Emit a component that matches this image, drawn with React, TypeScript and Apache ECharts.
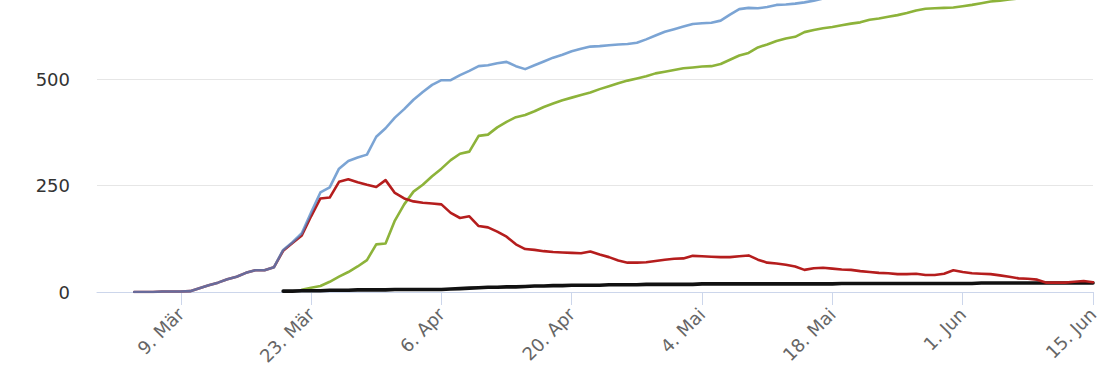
import React, { useEffect, useRef } from "react";
import * as echarts from "echarts";

// x axis: daily categories from 29 Feb 2020 to 15 Jun 2020
const firstDay = [2020, 1, 29];
const dayCount = 108;
const monthNames = ["Jan", "Feb", "Mär", "Apr", "Mai", "Jun"];
const tickLabels = ["9. Mär", "23. Mär", "6. Apr", "20. Apr", "4. Mai", "18. Mai", "1. Jun", "15. Jun"];
const yTicks = [0, 250, 500, 750];

// day index (from 29 Feb) at which each series begins
const totalStart = 4;
const activeStart = 4;
const recoveredStart = 22;
const deathsStart = 20;

const totalCases = [
  0, 0, 0, 1, 1, 1, 2, 9, 16, 22, 30, 36, 45, 51, 51, 58, 99,
  117, 138, 187, 234, 246, 290, 308, 316, 323, 365,
  385, 410, 430, 452, 470, 487, 498, 498, 510, 520,
  531, 533, 538, 541, 531, 524, 533, 542, 551, 558,
  566, 572, 577, 578, 580, 582, 583, 586, 594, 603,
  612, 618, 624, 630, 632, 633, 638, 652, 665, 668,
  667, 670, 675, 676, 678, 681, 685, 690,
  694, 697, 700, 703, 706, 709, 712, 714, 716, 718,
  720, 722, 724, 726, 728, 730, 732, 734, 736, 737,
  738, 739, 740, 741, 742, 743, 744, 745, 746,
];

const activeCases = [
  0, 0, 0, 1, 1, 1, 2, 9, 16, 22, 30, 36, 45, 51, 51, 58, 97, 115,
  133, 178, 220, 222, 259,
  265, 258, 252, 247, 263,
  233, 220, 213, 210, 208,
  206, 186, 174, 178, 155,
  152, 142, 130, 112, 101,
  99, 96, 94, 93, 92,
  91, 95, 88, 82, 74,
  69, 69, 70, 73, 76,
  78, 79, 85, 84, 83,
  82, 82, 84, 86, 76,
  69, 67, 64, 60, 52,
  56, 57, 55, 53, 52,
  49, 47, 45, 44, 42,
  42, 43, 40, 40, 43,
  51, 47, 44, 43, 42,
  39, 36, 32, 31, 29,
  22, 22, 22, 24, 26,
  23,
];

const recovered = [
  5, 10, 14, 24, 36,
  47, 60, 75, 112, 114,
  168, 206, 236, 252, 272,
  290, 310, 325, 330, 367,
  370, 387, 400, 411, 416,
  425, 435, 443, 451, 457,
  463, 469, 477, 484, 491,
  497, 502, 507, 514, 518,
  522, 526, 528, 530, 531,
  536, 546, 556, 562, 575,
  582, 590, 596, 600, 611,
  616, 620, 623, 627, 631,
  634, 640, 643, 647, 651,
  656, 662, 666, 667, 668,
  669, 672, 675, 679, 683,
  685, 688, 690, 692, 694,
  696, 698, 700, 702, 704,
  706,
];

const deaths = [
  2, 2, 3, 3, 3,
  4, 4, 4, 5, 5,
  5, 5, 6, 6, 6,
  6, 6, 6, 7, 8,
  9, 10, 11, 11, 12,
  12, 13, 14, 14, 15,
  15, 16, 16, 16, 16,
  17, 17, 17, 17, 18,
  18, 18, 18, 18, 18,
  19, 19, 19, 19, 19,
  19, 19, 19, 19, 19,
  19, 19, 19, 19, 19,
  20, 20, 20, 20, 20,
  20, 20, 20, 20, 20,
  20, 20, 20, 20, 20,
  21, 21, 21, 21, 21,
  21, 21, 21, 21, 21,
  21, 21, 21,
];

function buildCategories(): string[] {
  const out: string[] = [];
  for (let i = 0; i < dayCount; i++) {
    const d = new Date(firstDay[0], firstDay[1], firstDay[2] + i);
    out.push(`${d.getDate()}. ${monthNames[d.getMonth()]}`);
  }
  return out;
}

function pad(start: number, values: number[]): (number | null)[] {
  const arr: (number | null)[] = [];
  for (let i = 0; i < start; i++) arr.push(null);
  return arr.concat(values);
}

export default function App() {
  const ref = useRef<HTMLDivElement>(null);

  useEffect(() => {
    if (!ref.current) return;
    const chart = echarts.init(ref.current, undefined, { renderer: "svg" });
    const categories = buildCategories();
    const isTick = (idx: number) => tickLabels.indexOf(categories[idx]) >= 0;
    const font = "DejaVu Sans, Verdana, sans-serif";

    chart.setOption({
      animation: false,
      backgroundColor: "#ffffff",
      grid: {
        left: 97,
        right: 17,
        top: -27,
        bottom: 78,
        containLabel: false,
        outerBoundsMode: "none",
      },
      xAxis: {
        type: "category",
        data: categories,
        boundaryGap: false,
        axisLine: { show: true, lineStyle: { color: "#ccd6eb", width: 1 } },
        axisTick: {
          show: true,
          length: 13,
          interval: (idx: number) => isTick(idx),
          lineStyle: { color: "#ccd6eb", width: 1 },
        },
        axisLabel: {
          interval: (idx: number) => isTick(idx),
          rotate: 45,
          margin: 19,
          color: "#666666",
          fontSize: 18,
          fontFamily: font,
        },
        splitLine: { show: false },
      },
      yAxis: {
        type: "value",
        min: yTicks[0],
        max: yTicks[yTicks.length - 1],
        interval: yTicks[1] - yTicks[0],
        axisLine: { show: false },
        axisTick: { show: false },
        axisLabel: {
          margin: 27,
          color: "#333333",
          fontSize: 18,
          fontFamily: font,
          showMaxLabel: false,
        },
        splitLine: { show: true, lineStyle: { color: "#e6e6e6", width: 1 } },
      },
      series: [
        {
          name: "Genesen",
          type: "line",
          data: pad(recoveredStart, recovered),
          symbol: "none",
          lineStyle: { color: "#8db33a", width: 2.6, join: "round", cap: "round" },
          itemStyle: { color: "#8db33a" },
        },
        {
          name: "Verstorben",
          type: "line",
          data: pad(deathsStart, deaths),
          symbol: "none",
          lineStyle: { color: "#111111", width: 3.6, join: "round", cap: "round" },
          itemStyle: { color: "#111111" },
        },
        {
          name: "Aktiv",
          type: "line",
          data: pad(activeStart, activeCases),
          symbol: "none",
          lineStyle: { color: "#b51d1d", width: 2.6, join: "round", cap: "round" },
          itemStyle: { color: "#b51d1d" },
        },
        {
          name: "Infiziert",
          type: "line",
          data: pad(totalStart, totalCases),
          symbol: "none",
          lineStyle: { color: "#4f86c6", width: 2.6, opacity: 0.75, join: "round", cap: "round" },
          itemStyle: { color: "#4f86c6" },
        },
      ],
    });

    return () => chart.dispose();
  }, []);

  return (
    <div
      ref={ref}
      style={{ position: "fixed", left: 0, top: 0, width: 1110, height: 370, background: "#fff" }}
    />
  );
}
